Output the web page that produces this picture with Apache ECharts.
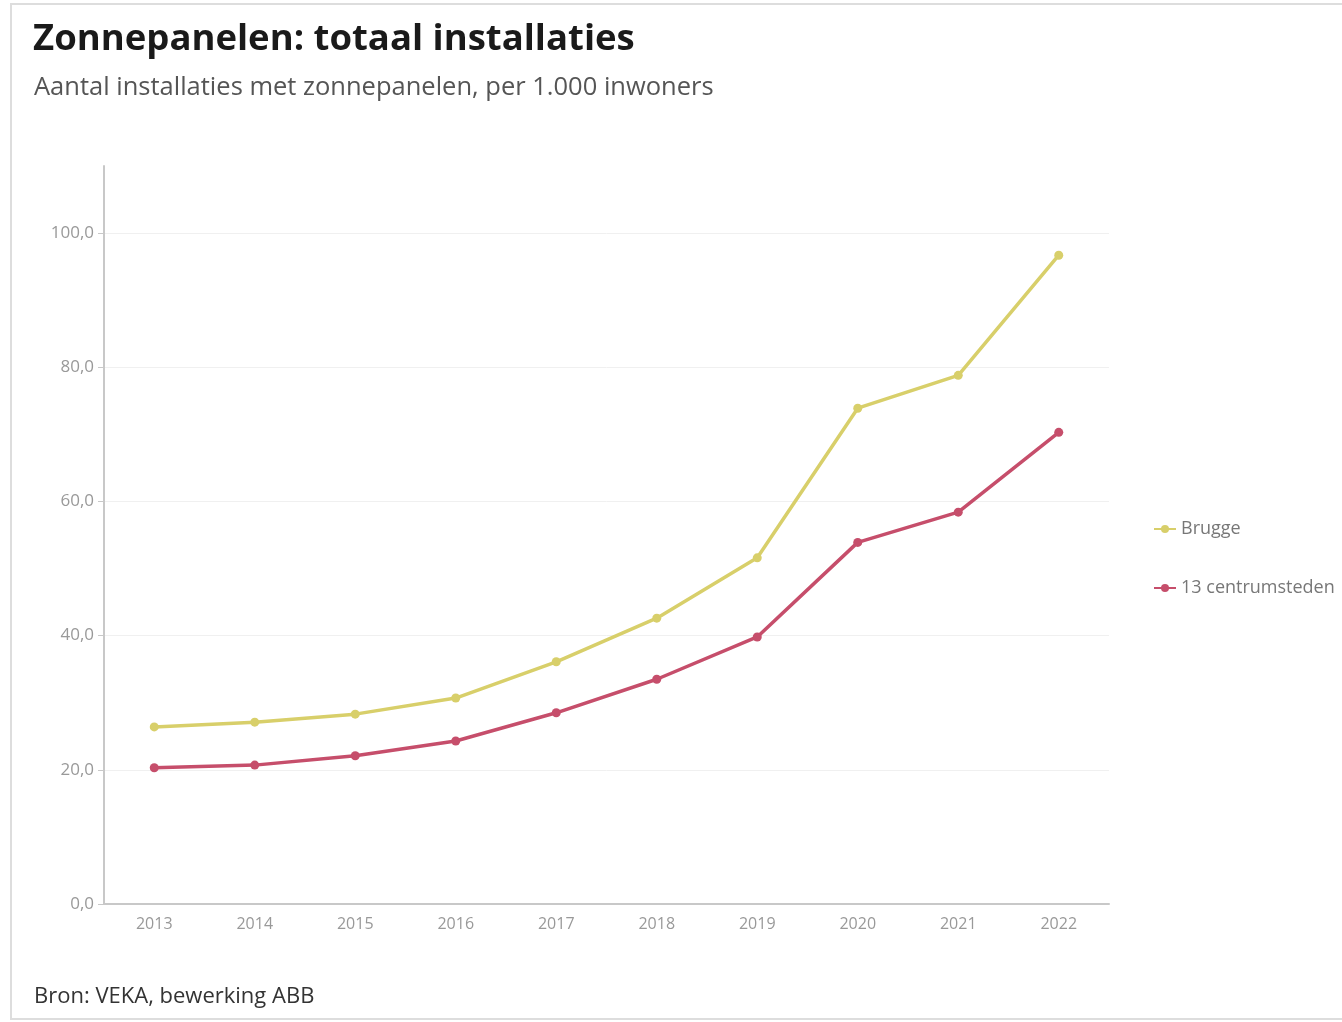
<!DOCTYPE html>
<html><head><meta charset="utf-8">
<script src="https://cdn.jsdelivr.net/npm/echarts@6/dist/echarts.min.js"></script>
<style>html,body{margin:0;padding:0;background:#fff}#c{width:1342px;height:1022px}</style>
</head><body><div id="c"></div>
<script>
const years = ['2013','2014','2015','2016','2017','2018','2019','2020','2021','2022'];
const brugge = [26.4, 27.1, 28.3, 30.7, 36.1, 42.6, 51.6, 73.9, 78.8, 96.7];
const centrumsteden = [20.3, 20.7, 22.1, 24.3, 28.5, 33.5, 39.8, 53.9, 58.4, 70.3];
const seriesNames = ['Brugge', '13 centrumsteden'];
const titleText = 'Zonnepanelen: totaal installaties';
const subtitleText = 'Aantal installaties met zonnepanelen, per 1.000 inwoners';
const sourceText = 'Bron: VEKA, bewerking ABB';

const font = '"Open Sans", Lato, sans-serif';
const chart = echarts.init(document.getElementById('c'));
chart.setOption({
  animation: false,
  backgroundColor: '#fff',
  textStyle: { fontFamily: font },
  title: [
    { text: titleText, left: 28, top: 16, textStyle: { fontSize: 36.5, fontWeight: 'bold', color: '#1a1a1a', fontFamily: font } },
    { text: subtitleText, left: 29, top: 70, textStyle: { fontSize: 25.5, fontWeight: 'normal', color: '#555', fontFamily: font } },
    { text: sourceText, left: 29, top: 981, textStyle: { fontSize: 22, fontWeight: 'normal', color: '#333', fontFamily: font } }
  ],
  graphic: [
    { type: 'rect', shape: { x: 11, y: 4, width: 1340, height: 1015 }, style: { fill: 'none', stroke: '#ddd', lineWidth: 2 }, z: -1 }
  ],
  legend: {
    orient: 'vertical', left: 1148, top: 515, itemGap: 41, itemWidth: 22, itemHeight: 10,
    textStyle: { fontSize: 18, color: '#777', fontFamily: font },
    data: seriesNames
  },
  grid: { left: 104, right: 233, top: 166, bottom: 118, containLabel: false },
  xAxis: {
    type: 'category', data: years, boundaryGap: true,
    axisLine: { lineStyle: { color: '#c8c8c8', width: 2 } },
    axisTick: { alignWithLabel: true, length: 6, lineStyle: { color: '#c8c8c8' } },
    axisLabel: { color: '#999', fontSize: 16, margin: 12, fontFamily: font }
  },
  yAxis: {
    type: 'value', min: 0, max: 110, interval: 20,
    axisLine: { show: true, lineStyle: { color: '#c8c8c8', width: 2 } },
    axisTick: { show: true, length: 6, lineStyle: { color: '#c8c8c8' } },
    axisLabel: { color: '#999', fontSize: 17, margin: 10, showMaxLabel: false, fontFamily: font,
      formatter: v => v.toFixed(1).replace('.', ',') },
    splitLine: { show: true, lineStyle: { color: ['#f0f0f0','#f0f0f0','#f0f0f0','#f0f0f0','#f0f0f0','#f0f0f0','rgba(0,0,0,0)'], width: 1 } }
  },
  series: [
    { name: seriesNames[0], type: 'line', data: brugge, symbol: 'circle', symbolSize: 9,
      itemStyle: { color: '#d8cf6a' }, lineStyle: { color: '#d8cf6a', width: 3.5 } },
    { name: seriesNames[1], type: 'line', data: centrumsteden, symbol: 'circle', symbolSize: 9,
      itemStyle: { color: '#c64e6b' }, lineStyle: { color: '#c64e6b', width: 3.5 } }
  ]
});
</script>
</body></html>
